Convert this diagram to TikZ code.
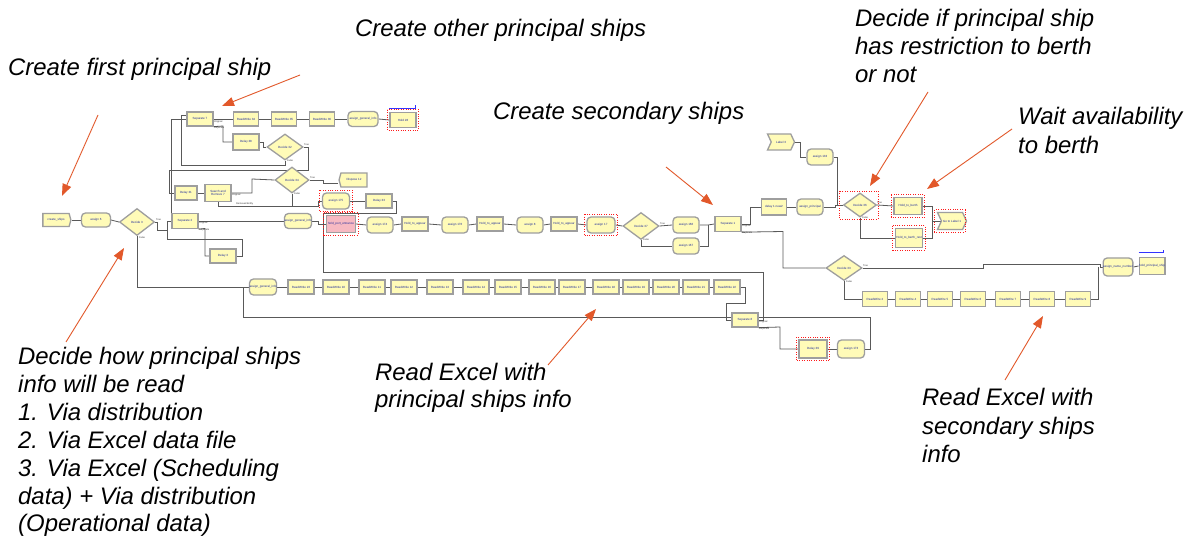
\documentclass[tikz,border=0pt]{standalone}
\usepackage{fontspec}
\setmainfont{Liberation Sans}
\usetikzlibrary{shapes.geometric,shapes.symbols,arrows.meta,calc}
\pgfdeclarelayer{bg}
\pgfsetlayers{bg,main}
\definecolor{blkyel}{HTML}{FFFBB8}
\definecolor{blktxt}{HTML}{1E2A9A}
\definecolor{callcol}{HTML}{E2582A}
\definecolor{pinkfill}{HTML}{F7B9C2}
\newcommand\blkfont{\fontsize{3}{3.4}\selectfont}
\newcommand\notefont{\fontsize{23.9}{28}\selectfont\itshape}
\newcommand\exfont{\fontsize{2.4}{2.6}\selectfont}
\newcommand\hlbox[1]{\draw[hlf] ([shift={(-2,-2)}]#1.north west) rectangle ([shift={(2,2)}]#1.south east);}
\tikzset{
 conn/.style={draw=black!65, line width=0.8pt},
 blk/.style={draw=black!38, line width=1.3pt, fill=blkyel, inner sep=0pt, text=blktxt, font=\blkfont, align=center},
 proc/.style={blk, rectangle, minimum width=25pt, minimum height=14pt},
 asg/.style={blk, rectangle, rounded corners=4pt, minimum width=27pt, minimum height=16pt},
 dec/.style={blk, diamond, minimum width=35pt, minimum height=27pt},
 lblk/.style={blk, signal, signal to=east, signal from=west, signal pointer angle=130, minimum width=27pt, minimum height=15pt},
 hlf/.style={draw=red!90, line width=0.8pt, dash pattern=on 1pt off 1.4pt},
 note/.style={font=\notefont, anchor=base west, inner sep=0pt, text=black},
 callout/.style={draw=callcol, line width=0.9pt, -{Triangle[length=12pt,width=9pt,fill=callcol]}},
 exl/.style={font=\exfont, inner sep=0pt, text=black!80},
 blueline/.style={draw=blue!80, line width=0.7pt},
}
\begin{document}
\begin{tikzpicture}[x=1pt,y=-1pt]
\useasboundingbox (0,0) rectangle (1194,545);
\begin{pgfonlayer}{bg}
\fill[white] (0,0) rectangle (1194,545);
\end{pgfonlayer}

% ---------- blocks ----------
\node[blk, signal, signal to=east, signal pointer angle=150, minimum width=28pt, minimum height=13pt] (n1) at (56,220) {create\_ships};
\node[asg, minimum width=29pt, minimum height=14pt] (n2) at (96,220) {assign 6};
\node[dec] (d3) at (137,222) {Decide 3};
\node[proc, minimum width=26pt, minimum height=15pt] (s2) at (185,221) {Separate 2};
\node[proc, minimum width=26pt] (dl3) at (223,256) {Delay 3};
\node[proc, minimum width=26pt] (s7) at (200,119) {Separate 7};
\node[proc] (rw34) at (246,119) {ReadWrite 34};
\node[proc] (rw35) at (284,119) {ReadWrite 35};
\node[proc] (rw36) at (322,119) {ReadWrite 36};
\node[asg, minimum width=30pt, minimum height=15pt] (ag2) at (363,119) {assign\_general\_info};
\node[proc, minimum width=26pt, minimum height=15pt] (h28) at (403,120) {Hold 28};
\node[proc, minimum width=26pt, minimum height=16pt] (dl38) at (246,142) {Delay 38};
\node[dec, minimum width=36pt, minimum height=26pt] (d32) at (285,147) {Decide 32};
\node[proc, minimum width=22pt] (dl31) at (186,193) {Delay 31};
\node[proc, minimum width=26pt, minimum height=17pt] (sr7) at (218,193) {Search and\\Remove 7};
\node[dec, minimum width=34pt, minimum height=26pt] (d34) at (292,180) {Decide 34};
\node[blk, signal, signal to=west, signal pointer angle=150, minimum width=28pt, minimum height=14pt] (dp12) at (354,180) {Dispose 12};
\node[asg] (a175) at (336,201) {assign 175};
\node[proc, minimum width=26pt] (dl33) at (379,201) {Delay 33};
\node[asg, minimum height=15pt] (agi) at (298,221) {assign\_general\_info};
\node[proc, fill=pinkfill, minimum width=29pt, minimum height=17pt] (pink) at (341,224) {hold\_port\_entrance};
\node[asg, minimum width=26pt] (a174) at (380,225) {assign 174};
\node[proc, minimum width=26pt] (b1) at (415,224) {Hold\_to\_appear};
\node[asg, minimum width=26pt] (a176) at (455,225) {assign 176};
\node[proc, minimum width=26pt] (b2) at (490,224) {Hold\_to\_appear};
\node[asg, minimum width=26pt] (a8) at (530,225) {assign 8};
\node[proc, minimum width=26pt] (b3) at (564,224) {Hold\_to\_appear};
\node[asg, minimum width=28pt] (a17) at (601,225) {assign 17};
\node[dec, minimum width=36pt] (d37) at (641,226) {Decide 37};
\node[asg, minimum width=26pt] (a166) at (686,225) {assign 166};
\node[asg, minimum width=26pt] (a167) at (686,246) {assign 167};
\node[proc, minimum width=26pt, minimum height=15pt] (s1) at (728,224) {Separate 1};
\node[lblk, minimum height=16pt] (lb3) at (781,142) {Label 3};
\node[asg, minimum width=26pt] (a133) at (820,157) {assign 133};
\node[proc, minimum height=16pt] (dn) at (774,207) {delay 1 new2};
\node[asg, minimum width=26pt] (ap) at (810,207) {assign\_principal};
\node[dec, minimum width=33pt, minimum height=24pt] (d36) at (860,205) {Decide 36};
\node[proc, minimum width=28pt, minimum height=17pt] (hb) at (908,206) {Hold\_to\_berth};
\node[proc, minimum width=27pt, minimum height=19pt] (hbr) at (909,238) {Hold\_to\_berth\_rest};
\node[lblk, minimum width=29pt, minimum height=17pt] (gl) at (952,221) {Go to Label 1};
\node[dec, minimum width=36pt, minimum height=25pt] (d33) at (844,268) {Decide 33};
\foreach \nm/\xx/\lab in {rwa/875/ReadWrite 2, rwb/908/ReadWrite 4, rwc/940/ReadWrite 5, rwd/973/ReadWrite 6, rwe/1008/ReadWrite 7, rwf/1042/ReadWrite 8, rwg/1078/ReadWrite 9}
  \node[proc, minimum height=15pt] (\nm) at (\xx,299) {\lab};
\node[asg, minimum height=18pt] (ann) at (1118,267) {assign\_name\_number};
\node[proc, minimum height=17pt] (hp) at (1152,266) {hold\_principal\_ship};
\node[asg, minimum height=16pt] (ag3) at (263,287) {assign\_general\_info};
\foreach \nm/\xx/\lab in {r23/301/ReadWrite 23, r10/336/ReadWrite 10, r11/372/ReadWrite 11, r12/404/ReadWrite 12, r13/440/ReadWrite 13, r14/476/ReadWrite 14, r15/508/ReadWrite 15, r16/542/ReadWrite 16, r17/572/ReadWrite 17, r18/606/ReadWrite 18, r19/636/ReadWrite 19, r20/666/ReadWrite 20, r21/696/ReadWrite 21, r22/727/ReadWrite 22}
  \node[proc, minimum width=26pt] (\nm) at (\xx,287) {\lab};
\node[proc, minimum width=26pt] (s8) at (745,320) {Separate 8};
\node[proc, minimum width=28pt, minimum height=18pt] (dl39) at (813,349) {Delay 39};
\node[asg, minimum height=18pt] (a173) at (851,349) {assign 173};

% highlight frames
\hlbox{h28}\hlbox{a175}\hlbox{pink}\hlbox{a17}\hlbox{hb}\hlbox{hbr}\hlbox{gl}\hlbox{dl39}
\draw[hlf] (839,191) rectangle (878,219);
\draw[blueline] (h28.north west) ++(0,-3) -- ++(26,0) -- ++(0,-4);
\draw[blueline] (hp.north west) ++(0,-4) -- ++(25,0) -- ++(0,-3);

% ---------- connectors (behind blocks) ----------
\begin{pgfonlayer}{bg}
\draw[conn] (n1.east) -- (n2.west);
\draw[conn] (n2.east) -- (d3.west);
\draw[conn] (d3.east) -- (157,222) -- (157,230) -- (167,230) -- (167,221) -- (s2.west);
\draw[conn] (167,221) -- (171,221) -- (171,119) -- (s7.west);
\draw[conn] (s2.south east) -- (205,228.5) -- (205,256) -- (dl3.west);
\draw[conn] (dl3.east) -- (242,256) -- (242,239) -- (167,239) -- (167,230);
\draw[conn] (d3.south) -- (137,287) -- (ag3.west);
\draw[conn] (s2.east) -- (agi.west);
\draw[conn] (s7.east) -- (rw34.west);
\draw[conn] (s7.south east) -- (223,126) -- (223,142) -- (dl38.west);
\draw[conn] (rw34.east) -- (rw35.west);
\draw[conn] (rw35.east) -- (rw36.west);
\draw[conn] (rw36.east) -- (ag2.west);
\draw[conn] (ag2.east) -- (h28.west);
\draw[conn] (dl38.east) -- (263,142) -- (263,147) -- (d32.west);
\draw[conn] (d32.south) -- (285,165) -- (181,165) -- (181,115) -- ($(s7.west)+(0,-4)$);
\draw[conn] (d32.east) -- (308,147) -- (308,170) -- (169,170) -- (169,193) -- (dl31.west);
\draw[conn] (dl31.east) -- (sr7.west);
\draw[conn] (sr7.east) -- (252,193) -- (252,179) -- (d34.west);
\draw[conn] (sr7.south) -- (218,206) -- (318,206) -- (318,201) -- (a175.west);
\draw[conn] (d34.south) -- (292,206);
\draw[conn] (d34.east) -- (323,180) -- (323,183) -- ($(dp12.west)+(0,3)$);
\draw[conn] (a175.east) -- (dl33.west);
\draw[conn] (dl33.east) -- (396,201) -- (396,213) -- (323,213) -- (323,224) -- (pink.west);
\draw[conn] (agi.east) -- (318,221) -- (318,224) -- (pink.west);
\draw[conn] (pink.east) -- (a174.west);
\draw[conn] (a174.east) -- (b1.west);
\draw[conn] (b1.east) -- (a176.west);
\draw[conn] (a176.east) -- (b2.west);
\draw[conn] (b2.east) -- (a8.west);
\draw[conn] (a8.east) -- (b3.west);
\draw[conn] (b3.east) -- (a17.west);
\draw[conn] (a17.east) -- (d37.west);
\draw[conn] (d37.east) -- (a166.west);
\draw[conn] (d37.south) -- (641,246) -- (a167.west);
\draw[conn] (a166.east) -- (708,225) -- (s1.west);
\draw[conn] (a167.east) -- (708,246) -- (708,225);
\draw[conn] (s1.east) -- (750,224) -- (750,207) -- (dn.west);
\draw[conn] (s1.south east) -- (783,231.5) -- (783,268) -- (d33.west);
\draw[conn] (dn.east) -- (ap.west);
\draw[conn] (ap.east) -- (835,207) -- (835,205) -- (d36.west);
\draw[conn] (lb3.east) -- (800,142) -- (800,157) -- (a133.west);
\draw[conn] (a133.east) -- (837,157) -- (837,205);
\draw[conn] (d36.east) -- (hb.west);
\draw[conn] (d36.south) -- (860,238) -- (hbr.west);
\draw[conn] (hb.east) -- (932,206) -- (932,221) -- (gl.west);
\draw[conn] (hbr.east) -- (932,238) -- (932,221);
\draw[conn] (d33.east) -- (983,268) -- (983,264) -- (1100,264) -- (1100,267) -- (ann.west);
\draw[conn] (d33.south) -- (844,299) -- (rwa.west);
\draw[conn] (rwa.east) -- (rwb.west);
\draw[conn] (rwb.east) -- (rwc.west);
\draw[conn] (rwc.east) -- (rwd.west);
\draw[conn] (rwd.east) -- (rwe.west);
\draw[conn] (rwe.east) -- (rwf.west);
\draw[conn] (rwf.east) -- (rwg.west);
\draw[conn] (rwg.east) -- (1098,299) -- (1098,267);
\draw[conn] (ann.east) -- (hp.west);
\draw[conn] (ag3.east) -- (r23.west);
\foreach \a/\b in {r23/r10, r10/r11, r11/r12, r12/r13, r13/r14, r14/r15, r15/r16, r16/r17, r17/r18, r18/r19, r19/r20, r20/r21, r21/r22}
  \draw[conn] (\a.east) -- (\b.west);
\draw[conn] (r22.east) -- (745,287) -- (745,303) -- (726,303) -- (726,320) -- (s8.west);
\draw[conn] (s8.east) -- (763,320) -- (763,272) -- (323,272) -- (323,224);
\draw[conn] (s8.south east) -- (780,327) -- (780,349) -- (dl39.west);
\draw[conn] (dl39.east) -- (a173.west);
\draw[conn] (a173.east) -- (870,349) -- (870,317) -- (243,317) -- (243,287) -- (ag3.west);
\end{pgfonlayer}

% exit labels
\node[exl, anchor=south west] (t3) at (156,221) {True};
\node[exl, anchor=north west] (f3) at (139,237) {False};
\node[exl, anchor=south west] (t32) at (304,146) {True};
\node[exl, anchor=north west] (f32) at (287,160) {False};
\node[exl, anchor=south west] (t34) at (310,179) {True};
\node[exl, anchor=north west] (f34) at (294,193) {False};
\node[exl, anchor=south west] (t37) at (660,225) {True};
\node[exl, anchor=north west] (f37) at (643,239) {False};
\node[exl, anchor=south west] (t36) at (877,204) {True};
\node[exl, anchor=north west] (f36) at (862,217) {False};
\node[exl, anchor=south west] (t33) at (863,267) {True};
\node[exl, anchor=north west] (f33) at (846,281) {False};
\node[exl, anchor=north west] (o7) at (214,121) {Original};
\node[exl, anchor=north west] (u7) at (214,127) {Duplicate};
\node[exl, anchor=north west] (o2) at (199,222) {Original};
\node[exl, anchor=north west] (u2) at (199,229) {Duplicate};
\node[exl, anchor=north west] (o1) at (742,225) {Original};
\node[exl, anchor=north west] (u1) at (742,232) {Duplicate};
\node[exl, anchor=north west] (o8) at (759,321) {Original};
\node[exl, anchor=north west] (u8) at (759,328) {Duplicate};
\node[exl, anchor=north west] (osr) at (232,194) {Original};
\node[exl, anchor=north west] (rsr) at (236,203) {Removed Entity};

% ---------- annotations ----------
\node[note] (c1) at (8,76) {Create first principal ship};
\node[note] (c2) at (355,37) {Create other principal ships};
\node[note] (c3a) at (855,27) {Decide if principal ship};
\node[note] (c3b) at (855,55) {has restriction to berth};
\node[note] (c3c) at (855,83) {or not};
\node[note] (c4a) at (1018,125) {Wait availability};
\node[note] (c4b) at (1018,154) {to berth};
\node[note] (c5) at (493,120) {Create secondary ships};
\node[note] (c6a) at (18,364) {Decide how principal ships};
\node[note] (c6b) at (18,392) {info will be read};
\node[note] (c6c) at (18,420) {1. Via distribution};
\node[note] (c6d) at (18,448) {2. Via Excel data file};
\node[note] (c6e) at (18,476) {3. Via Excel (Scheduling};
\node[note] (c6f) at (18,504) {data) + Via distribution};
\node[note] (c6g) at (18,531) {(Operational data)};
\node[note] (c7a) at (375,380) {Read Excel with};
\node[note] (c7b) at (375,407) {principal ships info};
\node[note] (c8a) at (922,405) {Read Excel with};
\node[note] (c8b) at (922,434) {secondary ships};
\node[note] (c8c) at (922,462) {info};

\coordinate (p1s) at (98,115);   \coordinate (p1e) at (62,196);
\coordinate (p2s) at (300,75);   \coordinate (p2e) at (222,106);
\coordinate (p3s) at (66,342);   \coordinate (p3e) at (124,248);
\coordinate (p4s) at (548,365);  \coordinate (p4e) at (596,309);
\coordinate (p5s) at (666,167);  \coordinate (p5e) at (713,205);
\coordinate (p6s) at (928,92);   \coordinate (p6e) at (870,186);
\coordinate (p7s) at (1012,129); \coordinate (p7e) at (927,189);
\coordinate (p8s) at (1005,380); \coordinate (p8e) at (1043,316);
\foreach \i in {1,...,8} \draw[callout] (p\i s) -- (p\i e);
\end{tikzpicture}
\end{document}
